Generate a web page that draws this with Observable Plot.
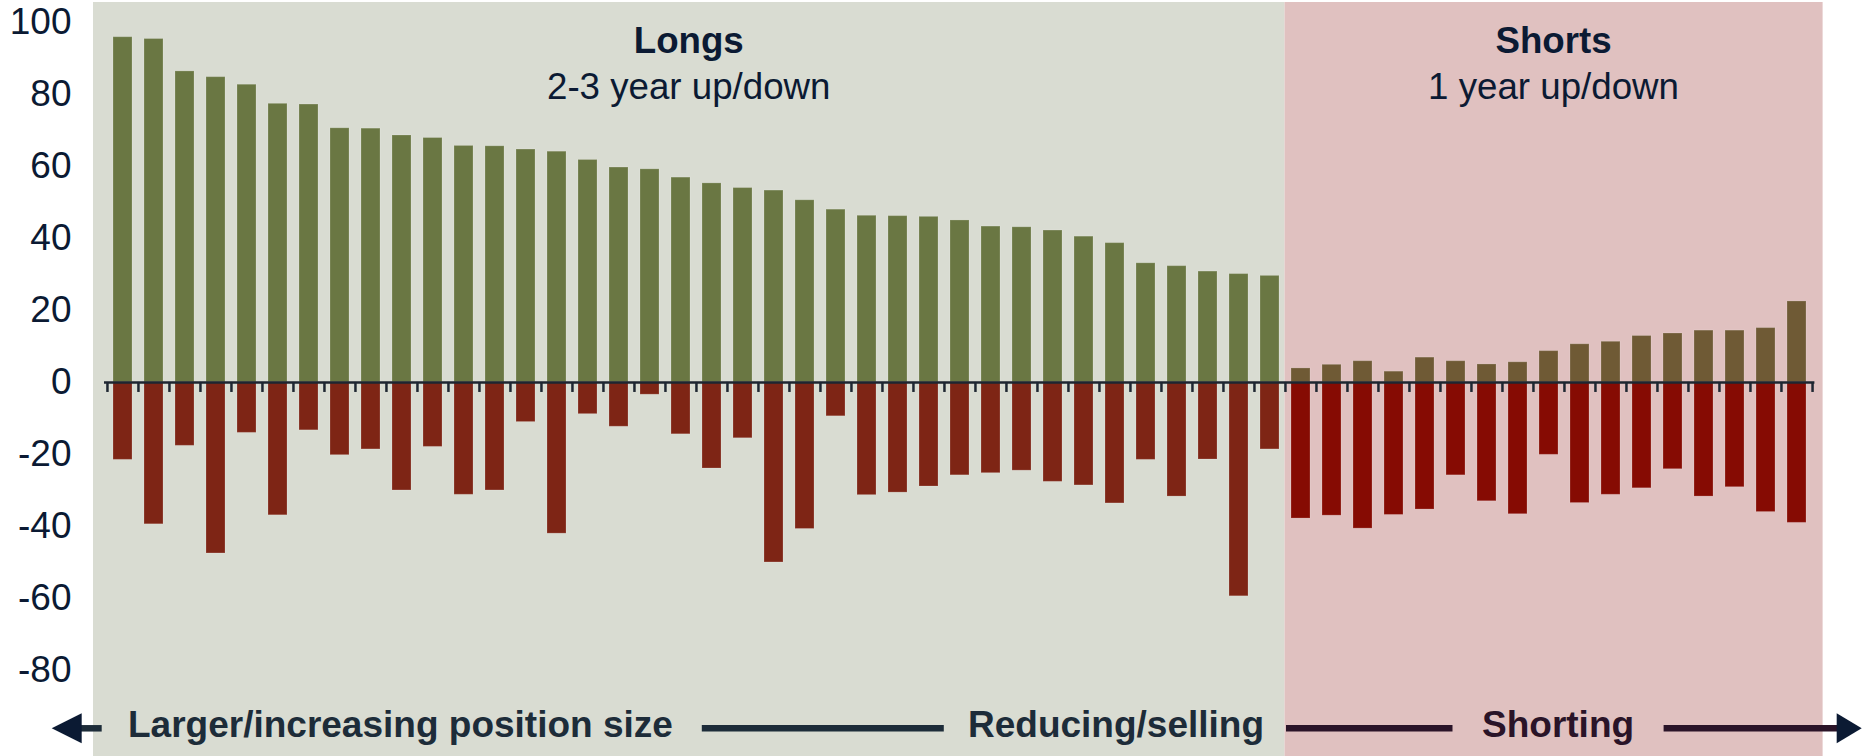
<!DOCTYPE html>
<html>
<head>
<meta charset="utf-8">
<script src="https://cdn.jsdelivr.net/npm/d3@7"></script>
<script src="https://cdn.jsdelivr.net/npm/@observablehq/plot@0.6"></script>
<style>
  html, body { margin: 0; padding: 0; background: #ffffff; }
  #chart { width: 1862px; height: 756px; overflow: hidden; }
  svg { font-family: "Liberation Sans", Arial, Helvetica, sans-serif; }
</style>
</head>
<body>
<div id="chart"></div>
<script>
// ---------------- data ----------------
const longUp = [95.9, 95.4, 86.4, 84.8, 82.7, 77.4, 77.2, 70.6, 70.5, 68.6, 67.9, 65.7, 65.6, 64.7, 64.1, 61.8, 59.7, 59.2, 56.9,
                55.3, 54.0, 53.3, 50.6, 48.0, 46.3, 46.2, 46.0, 45.0, 43.3, 43.1, 42.2, 40.5, 38.7, 33.1, 32.3, 30.8, 30.1, 29.6];
const longDown = [-21.5, -39.4, -17.6, -47.5, -14.0, -36.9, -13.3, -20.2, -18.6, -30.0, -17.9, -31.2, -30.0, -11.0, -42.0, -8.8, -12.3, -3.4, -14.4,
                  -23.9, -15.5, -50.0, -40.7, -9.4, -31.3, -30.6, -28.9, -25.8, -25.2, -24.5, -27.6, -28.6, -33.6, -21.5, -31.7, -21.4, -59.4, -18.6];
const shortUp = [3.9, 4.9, 5.9, 3.0, 6.9, 5.9, 5.0, 5.6, 8.7, 10.6, 11.3, 12.9, 13.6, 14.4, 14.4, 15.1, 22.5];
const shortDown = [-37.8, -37.0, -40.6, -36.8, -35.3, -25.8, -33.0, -36.6, -20.1, -33.5, -31.2, -29.4, -24.1, -31.7, -29.1, -36.0, -39.0];
const yTicks = [-80, -60, -40, -20, 0, 20, 40, 60, 80, 100];
const panelTitles = ["Longs", "Shorts"];
const panelSubtitles = ["2-3 year up/down", "1 year up/down"];
const flowLabels = ["Larger/increasing position size", "Reducing/selling", "Shorting"];

// ---------------- build table ----------------
const nL = longUp.length, nS = shortUp.length;
const cats = [...longUp.map((_, i) => `L${i + 1}`), ...shortUp.map((_, i) => `S${i + 1}`)];
const rows = cats.map((c, i) => i < nL
  ? {cat: c, group: "long", up: longUp[i], down: longDown[i]}
  : {cat: c, group: "short", up: shortUp[i - nL], down: shortDown[i - nL]});
const longRows = rows.filter(d => d.group === "long");
const shortRows = rows.filter(d => d.group === "short");

// ---------------- style ----------------
const W = 1862, H = 756, ML = 104, MR = 47.6;
const pad = 0.383;
const step = (W - ML - MR) / cats.length;
const navy = "#0b1a33", slate = "#1d2c39", plum = "#2a1428", axisCol = "#1e2631";
const colLongUp = "#6a7743", colLongDown = "#7e2515", colShortUp = "#6f5a35", colShortDown = "#860b03";
const bgLong = "#d9dcd2", bgShort = "#e0c1c0";
const tickLen = 10 / 3.6;

const barStyle = {stroke: "#ffffff", strokeOpacity: 0.18, strokeWidth: 1};

const plot = Plot.plot({
  width: W, height: H,
  marginTop: 0, marginBottom: 0, marginLeft: ML, marginRight: MR,
  style: {background: "transparent", overflow: "visible", fontFamily: "'Liberation Sans', Arial, sans-serif"},
  x: {type: "band", domain: cats, paddingInner: pad, paddingOuter: pad / 2, axis: null},
  y: {domain: [-103.9, 106.1], axis: null},
  marks: [
    Plot.barY(longRows, {x: "cat", y: "up", fill: colLongUp, ...barStyle}),
    Plot.barY(longRows, {x: "cat", y: "down", fill: colLongDown, ...barStyle}),
    Plot.barY(shortRows, {x: "cat", y: "up", fill: colShortUp, ...barStyle}),
    Plot.barY(shortRows, {x: "cat", y: "down", fill: colShortDown, ...barStyle}),
    Plot.ruleY([0], {stroke: axisCol, strokeWidth: 2.5}),
    Plot.ruleX(cats, {x: d => d, y1: 0, y2: -tickLen, dx: -step / 2, stroke: axisCol, strokeWidth: 2.5}),
    Plot.ruleX([cats[cats.length - 1]], {x: d => d, y1: 0, y2: -tickLen, dx: step / 2, stroke: axisCol, strokeWidth: 2.5}),
    Plot.axisY(yTicks, {anchor: "left", tickSize: 0, tickPadding: 33, fontSize: 37, color: navy, label: null,
                        tickFormat: d => String(d)})
  ]
});

document.getElementById("chart").appendChild(plot);

// ---------------- panels & annotations (positioned from the x scale) ----------------
const svg = d3.select(plot);
const xs = plot.scale("x");
const r0 = xs.range[0];
const st = xs.step;
const boundary = i => r0 + i * st;
const longL = boundary(0) - 11, longR = boundary(nL) + 2.5;
const shortL = longR, shortR = boundary(cats.length) + 13.6;

const bg = svg.insert("g", "g").attr("aria-label", "panels");
bg.append("rect").attr("x", longL).attr("y", 2).attr("width", longR - longL).attr("height", H - 2).attr("fill", bgLong);
bg.append("rect").attr("x", shortL).attr("y", 2).attr("width", shortR - shortL).attr("height", H - 2).attr("fill", bgShort);

const ann = svg.append("g").attr("aria-label", "annotations");
const centers = [(longL + longR) / 2, (shortL + shortR) / 2];
centers.forEach((cx, k) => {
  ann.append("text").attr("x", cx).attr("y", 53).attr("text-anchor", "middle")
    .attr("font-size", 36.7).attr("font-weight", "bold").attr("fill", navy).text(panelTitles[k]);
  ann.append("text").attr("x", cx).attr("y", 99).attr("text-anchor", "middle")
    .attr("font-size", 36.7).attr("fill", navy).text(panelSubtitles[k]);
});

// bottom flow row
const rowY = 728.3, shaftW = 6.5;
const seg = (x1, x2, c) => ann.append("line").attr("x1", x1).attr("x2", x2).attr("y1", rowY).attr("y2", rowY)
  .attr("stroke", c).attr("stroke-width", shaftW);
seg(78, 101.7, slate);
seg(701.8, 943.8, slate);
seg(longR + 1.5, 1452.5, plum);
seg(1663.6, 1840, plum);
ann.append("path").attr("d", `M51.7,${rowY} L81.7,${rowY - 15} L81.7,${rowY + 15} Z`).attr("fill", navy);
ann.append("path").attr("d", `M${W - 0.3},${rowY} L1836.7,${rowY - 15} L1836.7,${rowY + 15} Z`).attr("fill", navy);

const flowPos = [[128, slate], [968, slate], [1482, plum]];
flowLabels.forEach((t, k) => {
  ann.append("text").attr("x", flowPos[k][0]).attr("y", 737).attr("text-anchor", "start")
    .attr("font-size", 37).attr("font-weight", "bold").attr("fill", flowPos[k][1]).text(t);
});
</script>
</body>
</html>
